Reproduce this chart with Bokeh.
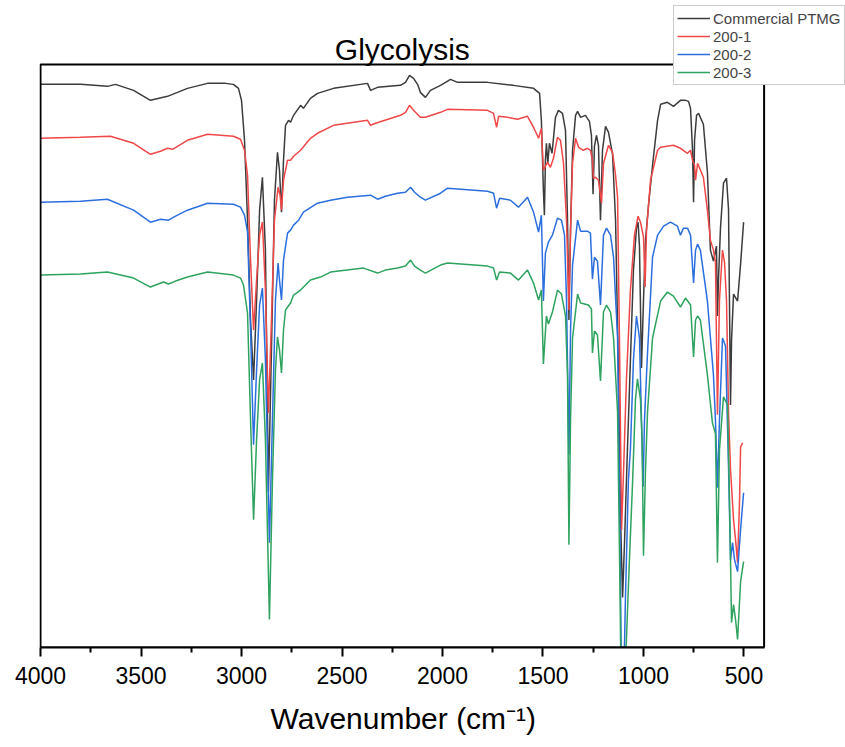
from bokeh.plotting import figure
from bokeh.models import Range1d, FixedTicker, Legend, LegendItem, BoxAnnotation, Label, Title
from bokeh.embed import file_html
from bokeh.resources import INLINE

# ---- data (wavenumber in cm-1, transmittance in offset a.u.) ----
ptmg_wn = [4000, 3801, 3667, 3627, 3537, 3453, 3368, 3269, 3169, 3080, 3040, 3015, 3000, 2985, 2970,
           2955, 2940, 2925, 2910, 2896, 2881, 2866, 2851, 2836, 2821, 2811, 2801, 2791, 2781, 2766,
           2756, 2741, 2706, 2692, 2657, 2622, 2542, 2373, 2358, 2323, 2209, 2184, 2164, 2144, 2124,
           2110, 2085, 2060, 2010, 1960, 1925, 1776, 1647, 1547, 1517, 1508, 1498, 1493, 1488, 1483,
           1476, 1468, 1455, 1438, 1423, 1403, 1388, 1378, 1371, 1363, 1353, 1338, 1328, 1313, 1289,
           1269, 1259, 1251, 1244, 1234, 1224, 1214, 1204, 1189, 1174, 1154, 1139, 1124, 1114, 1104,
           1094, 1080, 1065, 1050, 1035, 1027, 1020, 1010, 1000, 990, 975, 955, 930, 915, 881,
           851, 816, 791, 776, 766, 756, 751, 746, 736, 726, 702, 682, 667, 652, 637,
           632, 627, 617, 602, 587, 577, 567, 562, 552, 532, 517, 502]
ptmg_t = [141.0, 141.0, 140.5, 141.0, 139.5, 137.0, 138.0, 140.0, 141.25, 141.25, 141.0, 140.0, 137.0, 127.0, 107.0,
          82.0, 67.0, 87.0, 109.5, 117.75, 99.5, 39.0, 74.5, 112.0, 124.0, 119.5, 109.0, 122.0, 130.75, 132.0,
          131.5, 133.25, 135.75, 135.0, 137.5, 138.75, 140.0, 141.25, 139.5, 140.25, 140.75, 141.5, 143.25, 142.5, 141.0,
          139.0, 137.75, 139.5, 140.75, 142.25, 141.5, 141.5, 140.75, 140.0, 138.75, 132.0, 114.5, 108.25, 122.0, 126.25,
          121.25, 126.25, 123.75, 132.75, 134.5, 133.75, 129.5, 107.0, 82.0, 104.5, 124.5, 133.25, 134.25, 132.75, 133.25,
          131.75, 128.25, 113.5, 125.5, 128.25, 125.75, 107.0, 124.5, 130.5, 129.0, 123.5, 107.0, 67.0, 32.0, 12.5,
          27.0, 49.5, 72.0, 94.5, 105.0, 106.5, 100.5, 70.0, 87.0, 102.0, 110.75, 120.75, 132.0, 136.0, 136.5,
          135.5, 137.0, 137.0, 136.75, 135.0, 124.5, 111.5, 127.0, 133.25, 133.75, 131.0, 119.0, 99.5, 96.75, 100.5,
          83.0, 92.0, 105.0, 116.25, 117.5, 109.75, 60.75, 77.0, 88.5, 86.75, 96.0, 106.5]

s1_wn = [4000, 3801, 3652, 3537, 3453, 3403, 3368, 3343, 3269, 3169, 3040, 3005, 2985, 2970, 2955,
         2940, 2925, 2910, 2896, 2881, 2866, 2851, 2836, 2818, 2808, 2801, 2791, 2771, 2756, 2741,
         2706, 2657, 2622, 2542, 2373, 2358, 2333, 2209, 2184, 2164, 2144, 2110, 2085, 2010, 1975,
         1776, 1746, 1731, 1721, 1677, 1627, 1577, 1547, 1522, 1508, 1498, 1478, 1463, 1448, 1428,
         1413, 1398, 1383, 1371, 1363, 1353, 1338, 1323, 1299, 1279, 1264, 1254, 1249, 1239, 1224,
         1214, 1209, 1199, 1174, 1154, 1139, 1129, 1119, 1109, 1099, 1085, 1065, 1045, 1027, 1015,
         1000, 992, 985, 975, 965, 930, 915, 851, 816, 781, 766, 756, 746, 741, 731,
         702, 682, 667, 652, 642, 632, 622, 607, 597, 587, 577, 567, 552, 542, 532,
         522, 517, 507]
s1_t = [127.5, 127.75, 128.0, 126.25, 123.5, 124.25, 125.0, 124.75, 127.0, 128.5, 128.0, 127.25, 124.5, 118.25, 97.0,
        79.5, 92.0, 103.25, 106.5, 89.5, 58.75, 82.0, 107.0, 115.25, 113.25, 109.5, 117.0, 122.0, 122.0, 123.0,
        124.5, 127.5, 128.75, 130.75, 132.0, 130.75, 131.25, 133.25, 134.0, 135.75, 134.5, 132.75, 132.75, 134.0, 134.75,
        134.5, 133.75, 130.25, 133.0, 132.75, 132.25, 133.0, 130.25, 127.5, 130.0, 119.5, 121.5, 120.25, 122.5, 127.75,
        127.0, 121.25, 107.0, 84.5, 104.5, 121.25, 127.5, 125.25, 124.5, 125.0, 124.5, 122.0, 117.5, 117.75, 117.0,
        113.25, 111.25, 121.25, 125.75, 124.0, 118.25, 112.75, 74.5, 29.5, 44.5, 67.0, 89.5, 103.25, 108.0, 106.5,
        102.75, 90.25, 104.5, 110.75, 117.0, 124.5, 125.25, 125.75, 125.0, 123.75, 124.5, 122.0, 120.75, 117.0, 121.25,
        117.75, 109.5, 102.0, 99.5, 96.5, 58.25, 87.0, 99.5, 96.5, 87.0, 59.0, 44.5, 32.0, 27.0, 21.25,
        37.0, 50.25, 51.25]

s2_wn = [4000, 3801, 3667, 3537, 3453, 3403, 3363, 3328, 3269, 3169, 3040, 3005, 2985, 2970, 2955,
         2940, 2925, 2910, 2896, 2881, 2861, 2846, 2831, 2818, 2811, 2801, 2791, 2771, 2756, 2741,
         2716, 2692, 2622, 2557, 2473, 2358, 2323, 2284, 2224, 2184, 2159, 2139, 2110, 2085, 2010,
         1975, 1776, 1746, 1731, 1716, 1662, 1622, 1577, 1547, 1522, 1508, 1498, 1488, 1473, 1453,
         1428, 1408, 1393, 1383, 1371, 1363, 1353, 1328, 1313, 1279, 1264, 1254, 1244, 1229, 1214,
         1199, 1184, 1164, 1149, 1129, 1119, 1109, 1099, 1090, 1075, 1065, 1050, 1035, 1020, 1010,
         1002, 995, 980, 955, 930, 900, 866, 831, 816, 801, 781, 766, 751, 741, 731,
         717, 682, 652, 642, 632, 622, 607, 592, 577, 567, 557, 547, 532, 517, 502]
s2_t = [111.5, 111.75, 112.25, 109.5, 106.5, 107.25, 107.0, 108.0, 109.5, 111.25, 111.0, 110.25, 108.25, 104.0, 79.5,
        50.75, 69.5, 85.75, 90.0, 72.0, 26.25, 57.0, 87.0, 96.25, 92.0, 87.0, 97.0, 103.75, 104.5, 105.75,
        107.0, 109.0, 111.25, 112.0, 112.75, 113.25, 112.25, 113.0, 113.75, 114.0, 115.25, 114.0, 112.75, 112.0, 113.75,
        115.0, 114.25, 113.75, 110.0, 112.5, 112.0, 110.25, 112.75, 109.0, 104.0, 108.25, 86.75, 98.75, 101.5, 103.25,
        107.5, 107.0, 103.25, 87.0, 48.25, 79.5, 95.75, 107.0, 104.25, 104.25, 103.75, 92.25, 97.75, 96.75, 85.75,
        103.25, 105.0, 103.25, 97.75, 77.5, 37.0, -10.5, -10.5, 12.0, 42.0, 49.75, 72.0, 83.0, 77.5, 57.0,
        40.25, 57.0, 73.75, 97.75, 103.25, 105.5, 106.5, 105.5, 103.25, 105.0, 105.0, 103.25, 91.25, 99.5, 101.0,
        99.5, 86.75, 68.25, 57.0, 40.0, 57.0, 77.5, 75.5, 45.25, 22.0, 26.25, 22.0, 19.0, 29.5, 38.75]

s3_wn = [4000, 3801, 3667, 3537, 3453, 3388, 3363, 3328, 3269, 3169, 3040, 3005, 2990, 2970, 2955,
         2940, 2925, 2910, 2896, 2881, 2861, 2846, 2831, 2821, 2811, 2801, 2791, 2781, 2756, 2741,
         2706, 2657, 2607, 2557, 2393, 2323, 2284, 2224, 2184, 2159, 2139, 2110, 2085, 2010, 1975,
         1776, 1746, 1731, 1716, 1662, 1622, 1577, 1547, 1522, 1508, 1498, 1483, 1473, 1453, 1428,
         1408, 1388, 1378, 1371, 1363, 1353, 1328, 1313, 1274, 1259, 1254, 1244, 1229, 1214, 1199,
         1184, 1164, 1149, 1129, 1119, 1109, 1099, 1085, 1070, 1055, 1040, 1030, 1015, 1007, 1000,
         990, 980, 955, 915, 881, 851, 816, 791, 766, 751, 741, 731, 717, 682, 657,
         642, 632, 622, 602, 582, 572, 562, 552, 542, 532, 517, 502]
s3_t = [93.25, 93.5, 94.0, 92.5, 90.25, 91.5, 91.0, 91.75, 92.75, 94.0, 93.25, 92.5, 90.75, 83.75, 57.0,
        32.0, 52.0, 67.0, 71.25, 52.0, 7.0, 42.0, 69.5, 77.75, 74.5, 68.75, 79.5, 84.5, 86.25, 88.25,
        89.5, 92.0, 92.75, 94.0, 95.0, 93.75, 94.5, 95.0, 95.5, 97.0, 95.5, 94.5, 93.75, 95.75, 96.25,
        95.5, 95.0, 92.0, 94.0, 93.75, 92.0, 94.5, 91.25, 87.0, 89.5, 71.0, 83.0, 81.0, 84.0, 89.5,
        88.5, 83.0, 68.25, 25.75, 57.0, 77.5, 88.5, 86.25, 85.75, 84.75, 73.75, 79.25, 78.25, 66.75, 84.0,
        85.75, 84.0, 77.5, 59.0, 22.0, -18.0, -18.0, 2.0, 22.0, 40.5, 62.0, 67.25, 62.0, 52.0, 23.0,
        44.5, 59.0, 77.5, 86.75, 89.0, 88.0, 85.25, 87.5, 85.75, 72.75, 82.0, 83.0, 82.0, 68.25, 56.25,
        53.5, 21.25, 49.5, 62.75, 60.75, 37.0, 6.25, 10.75, 7.0, 2.0, 16.5, 21.5]

series_names = ["Commercial PTMG", "200-1", "200-2", "200-3"]
series_colors = ["#3c3c3c", "#f04848", "#2b6fdf", "#2ea35f"]
major_ticks = [4000, 3500, 3000, 2500, 2000, 1500, 1000, 500]
minor_ticks = [3750, 3250, 2750, 2250, 1750, 1250, 750]
title_text = "Glycolysis"
x_label_text = "Wavenumber (cm\u207b\u00b9)"

# plot box (data limits of the axes)
X_HI, X_LO = 4000, 400
Y_LO, Y_HI = 0, 146

FONT = "Liberation Sans"

# the frame is widened past the plot box so the legend can sit over the box corner
p = figure(width=845, height=747, x_range=Range1d(4005, -5), y_range=Range1d(0, 162),
           output_backend="svg", toolbar_location=None,
           min_border_left=39, min_border_right=0, min_border_top=0, min_border_bottom=99)

p.grid.visible = False
p.yaxis.visible = False
p.outline_line_color = None
p.background_fill_color = "white"
p.border_fill_color = "white"

ax = p.xaxis[0]
ax.bounds = (X_LO, X_HI)
ax.ticker = FixedTicker(ticks=major_ticks, minor_ticks=minor_ticks)
ax.axis_line_width = 2
ax.axis_line_color = "black"
ax.major_tick_line_width = 2
ax.major_tick_line_color = "black"
ax.major_tick_in = 0
ax.major_tick_out = 9
ax.minor_tick_line_width = 2
ax.minor_tick_line_color = "black"
ax.minor_tick_in = 0
ax.minor_tick_out = 5
ax.major_label_text_font = FONT
ax.major_label_text_font_size = "23px"
ax.major_label_text_color = "black"
ax.major_label_standoff = 10

# x-axis title, centred under the plot box (not under the wider frame)
p.add_layout(Title(text=x_label_text, align="left", offset=231, standoff=26,
                   text_font=FONT, text_font_size="30px", text_font_style="normal",
                   text_color="black"), "below")

data = [(ptmg_wn, ptmg_t), (s1_wn, s1_t), (s2_wn, s2_t), (s3_wn, s3_t)]
items = []
for (wn, t), name, col in zip(data, series_names, series_colors):
    r = p.line(wn, t, line_color=col, line_width=1.5)
    items.append(LegendItem(label=name, renderers=[r]))

# plot box outline
p.add_layout(BoxAnnotation(left=X_LO, right=X_HI, bottom=Y_LO, top=Y_HI,
                           fill_alpha=0, line_color="black", line_width=2, line_alpha=1.0))

# title centred over the plot box
p.add_layout(Label(x=(X_HI + X_LO) / 2, y=Y_HI, y_offset=15, text=title_text,
                   text_align="center", text_baseline="alphabetic",
                   text_font=FONT, text_font_size="30px", text_color="black"))

legend = Legend(items=items, location=(634, 562), orientation="vertical",
                label_text_font=FONT, label_text_font_size="15px",
                label_height=18, glyph_height=18, glyph_width=33, label_standoff=3,
                spacing=0, padding=3, margin=0,
                border_line_color="#9a9a9a", border_line_width=1.5,
                background_fill_color="white", background_fill_alpha=1.0)
p.add_layout(legend, "center")

open("out.html", "w").write(file_html(p, INLINE))
